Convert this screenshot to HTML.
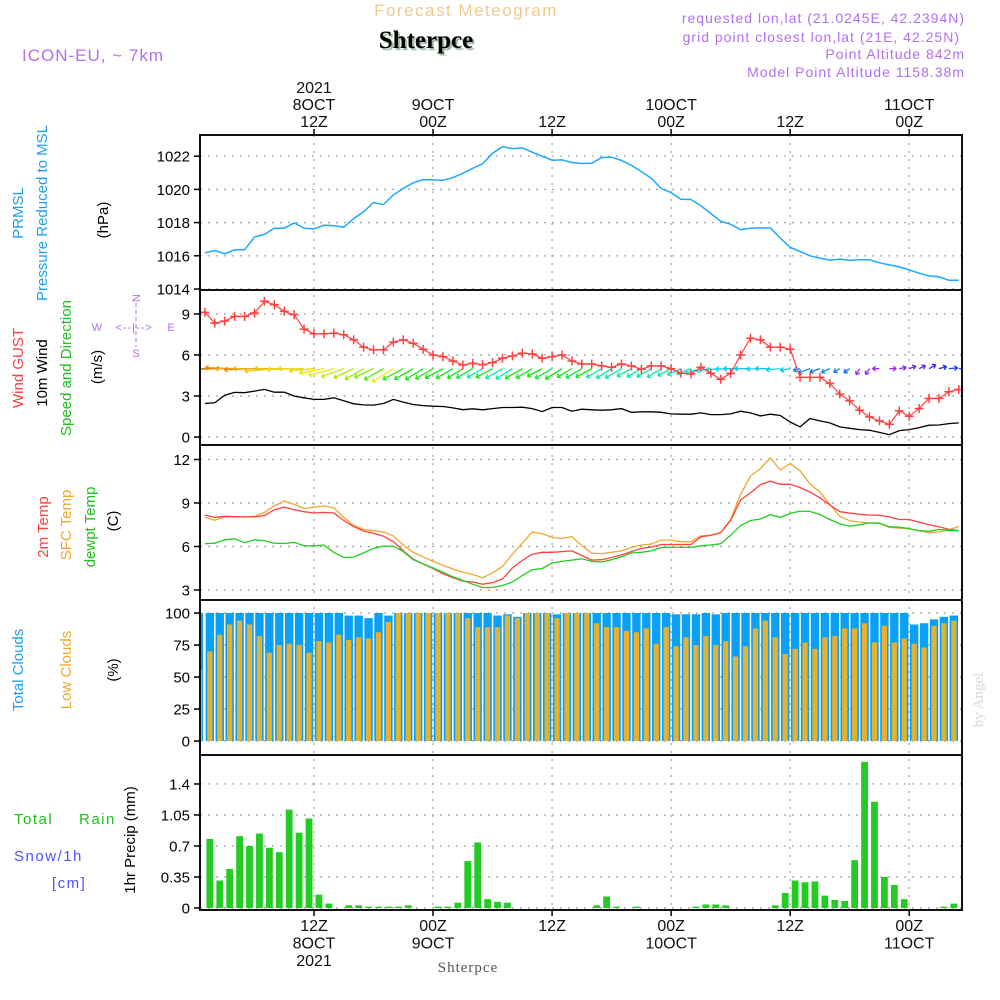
<!DOCTYPE html>
<html><head><meta charset="utf-8"><style>
html,body{margin:0;padding:0;background:#fff;}
svg{display:block;font-family:"Liberation Sans",sans-serif;}
</style></head><body>
<svg id="chart" width="1000" height="1000" viewBox="0 0 1000 1000" xmlns="http://www.w3.org/2000/svg">
<g>
<text x="466" y="16" text-anchor="middle" font-size="17" fill="#f2c98e" letter-spacing="1.5">Forecast Meteogram</text>
<text x="426" y="48" text-anchor="middle" font-size="25" font-weight="bold" font-family="Liberation Serif, serif" fill="#000" style="text-shadow:2px 2px 1px #9ab09a">Shterpce</text>
<text x="22" y="61" font-size="17" fill="#b46ef0" letter-spacing="1">ICON-EU, ~ 7km</text>
<g font-size="14" fill="#b46ef0" text-anchor="end" letter-spacing="1">
<text x="965" y="23">requested lon,lat (21.0245E, 42.2394N)</text>
<text x="960" y="42">grid point closest lon,lat (21E, 42.25N)</text>
<text x="965" y="59">Point Altitude 842m</text>
<text x="965" y="77">Model Point Altitude 1158.38m</text>
</g>
</g>
<g id="axes-labels" font-size="15">
<text transform="translate(23,213) rotate(-90)" text-anchor="middle" fill="#1ea0f0">PRMSL</text>
<text transform="translate(47,213) rotate(-90)" text-anchor="middle" fill="#1ea0f0">Pressure Reduced to MSL</text>
<text transform="translate(108,220) rotate(-90)" text-anchor="middle" fill="#000">(hPa)</text>
<text transform="translate(23,368) rotate(-90)" text-anchor="middle" fill="#ff4040">Wind GUST</text>
<text transform="translate(47,373) rotate(-90)" text-anchor="middle" fill="#000">10m Wind</text>
<text transform="translate(71,368) rotate(-90)" text-anchor="middle" fill="#20c020">Speed and Direction</text>
<text transform="translate(102,367) rotate(-90)" text-anchor="middle" fill="#000">(m/s)</text>
<g fill="#b46ef0" font-size="11">
<text x="97" y="331" text-anchor="middle">W</text>
<text x="171" y="331" text-anchor="middle">E</text>
<text x="136" y="302" text-anchor="middle" transform="rotate(-90 136 298)">N</text>
<text x="136" y="357" text-anchor="middle">S</text>
<text x="134" y="331" text-anchor="middle" letter-spacing="1">&lt;--|--&gt;</text>
<line x1="136" y1="303" x2="136" y2="347" stroke="#b46ef0" stroke-dasharray="4,3"/>
</g>
<text transform="translate(48,527) rotate(-90)" text-anchor="middle" fill="#ff4040">2m Temp</text>
<text transform="translate(71,525) rotate(-90)" text-anchor="middle" fill="#f0a830">SFC Temp</text>
<text transform="translate(95,527) rotate(-90)" text-anchor="middle" fill="#20c020">dewpt Temp</text>
<text transform="translate(118,521) rotate(-90)" text-anchor="middle" fill="#000">(C)</text>
<text transform="translate(23,670) rotate(-90)" text-anchor="middle" fill="#1ea0f0">Total Clouds</text>
<text transform="translate(71,670) rotate(-90)" text-anchor="middle" fill="#f0a830">Low Clouds</text>
<text transform="translate(118,670) rotate(-90)" text-anchor="middle" fill="#000">(%)</text>
<text x="14" y="824" fill="#20c020" letter-spacing="1.5">Total</text>
<text x="79" y="824" fill="#20c020" letter-spacing="1.5">Rain</text>
<text x="14" y="861" fill="#5050ff" letter-spacing="1.5">Snow/1h</text>
<text x="52" y="888" fill="#5050ff" letter-spacing="1.5">[cm]</text>
<text transform="translate(135,840) rotate(-90)" text-anchor="middle" fill="#000">1hr Precip (mm)</text>
<text transform="translate(983,700) rotate(-90)" text-anchor="middle" fill="#d8d8d8" font-family="Liberation Serif, serif" font-size="15">by Angel</text>
<text x="468" y="972" text-anchor="middle" fill="#555" font-family="Liberation Serif, serif" font-size="15" letter-spacing="1">Shterpce</text>
</g>
<g id="plots"></g>
</svg>
<script>
const pressure=[1016.18,1016.32,1016.12,1016.36,1016.36,1017.13,1017.29,1017.66,1017.66,1017.98,1017.66,1017.62,1017.84,1017.82,1017.72,1018.24,1018.65,1019.21,1019.09,1019.66,1020.06,1020.4,1020.59,1020.57,1020.55,1020.71,1020.97,1021.27,1021.54,1022.18,1022.57,1022.46,1022.5,1022.24,1022.0,1021.76,1021.78,1021.62,1021.56,1021.58,1021.92,1021.94,1021.74,1021.45,1021.07,1020.67,1020.06,1019.8,1019.41,1019.39,1019.01,1018.55,1018.08,1017.9,1017.58,1017.66,1017.68,1017.68,1017.07,1016.51,1016.26,1016.0,1015.86,1015.74,1015.8,1015.72,1015.76,1015.76,1015.58,1015.45,1015.33,1015.15,1014.95,1014.79,1014.73,1014.53,1014.53];
const gust=[9.12,8.33,8.48,8.82,8.82,9.07,9.93,9.68,9.19,8.95,7.89,7.55,7.55,7.6,7.48,7.11,6.57,6.37,6.37,6.94,7.11,6.86,6.42,6.0,5.88,5.56,5.27,5.39,5.29,5.44,5.76,5.93,6.13,6.08,5.76,5.88,6.0,5.56,5.34,5.34,5.2,5.1,5.34,5.2,4.95,5.2,5.2,5.0,4.66,4.61,5.1,4.66,4.22,4.66,6.0,7.23,7.11,6.57,6.57,6.42,4.36,4.36,4.36,3.92,3.14,2.65,1.96,1.47,1.18,0.93,1.91,1.52,2.08,2.82,2.82,3.31,3.48];
const windSpeed=[2.45,2.5,3.06,3.26,3.24,3.36,3.48,3.28,3.28,2.99,2.87,2.75,2.75,2.87,2.65,2.43,2.35,2.33,2.45,2.75,2.55,2.38,2.3,2.25,2.23,2.13,2.0,2.06,1.99,2.08,2.16,2.16,2.18,2.08,1.86,2.16,2.16,1.89,2.03,1.99,1.96,1.99,2.08,1.81,1.84,1.84,1.81,1.69,1.67,1.67,1.76,1.64,1.64,1.69,1.89,1.76,1.54,1.67,1.57,1.1,0.74,1.35,1.18,1.03,0.74,0.64,0.54,0.49,0.34,0.17,0.47,0.54,0.69,0.86,0.88,0.98,1.03];
const windDir=[180,182,180,178,180,182,180,185,180,182,180,185,190,195,200,205,210,205,210,212,208,210,212,210,208,210,212,210,210,208,210,212,210,210,208,210,212,210,210,208,210,212,210,208,210,210,212,208,205,200,195,190,185,182,180,180,182,180,185,190,195,200,200,205,210,215,240,235,180,0,10,20,25,30,15,5,0];
const windHue=[30,25,30,35,40,35,45,50,50,55,55,55,60,60,70,75,80,85,100,60,110,120,120,115,120,125,120,130,165,120,160,165,120,125,120,130,120,125,130,120,160,160,165,160,165,160,170,160,165,170,175,180,185,185,190,190,185,190,185,190,205,205,210,205,210,215,275,275,275,275,265,260,255,250,230,225,220];
const temp2m=[8.17,8.01,8.08,8.06,8.04,8.04,8.13,8.53,8.71,8.53,8.40,8.31,8.35,8.31,7.79,7.38,7.07,6.91,6.71,6.33,5.70,5.13,4.80,4.48,4.12,3.85,3.62,3.55,3.40,3.51,3.76,4.52,5.04,5.47,5.60,5.60,5.65,5.70,5.38,5.06,5.09,5.24,5.42,5.65,5.87,5.96,6.14,6.14,6.14,6.14,6.66,6.77,6.95,7.79,9.21,9.70,10.27,10.51,10.29,10.29,10.06,9.75,9.36,8.87,8.40,8.31,8.22,8.17,8.15,8.04,7.86,7.86,7.68,7.50,7.36,7.18,7.09];
const sfcTemp=[8.01,7.81,8.04,8.04,8.04,8.08,8.35,8.80,9.14,8.91,8.62,8.71,8.80,8.67,8.01,7.45,7.18,7.09,7.0,6.73,6.10,5.60,5.29,4.97,4.70,4.45,4.23,4.07,3.85,4.18,4.63,5.47,6.23,7.0,6.89,6.62,6.55,6.68,6.05,5.54,5.51,5.60,5.70,5.94,6.10,6.17,6.44,6.44,6.33,6.33,6.73,6.77,6.95,7.86,9.59,10.87,11.37,12.11,11.28,11.73,11.21,10.31,9.75,8.91,8.08,7.77,7.68,7.63,7.59,7.32,7.27,7.23,7.09,6.95,7.0,7.16,7.38];
const dewpt=[6.19,6.23,6.46,6.53,6.26,6.46,6.41,6.23,6.21,6.28,6.05,6.05,6.10,5.60,5.24,5.27,5.56,5.87,6.03,6.03,5.65,5.09,4.80,4.52,4.23,3.91,3.67,3.40,3.17,3.17,3.31,3.55,4.0,4.39,4.48,4.86,4.97,5.06,5.15,4.97,4.93,5.09,5.29,5.56,5.60,5.70,5.94,5.96,5.94,5.94,6.05,6.10,6.19,6.77,7.45,7.79,7.90,8.20,8.01,8.28,8.44,8.42,8.20,7.86,7.56,7.41,7.50,7.63,7.61,7.36,7.34,7.23,7.09,7.05,7.18,7.11,7.09];
const totalClouds=[100,100,100,100,100,100,100,100,100,100,100,100,100,100,98,98,96,100,98,100,100,100,100,100,100,100,100,100,100,98,99,97,100,100,100,99,100,100,100,100,100,100,100,100,100,100,100,99,99,99,100,99,100,100,100,100,100,100,100,100,100,100,100,100,100,100,100,100,100,100,100,91,92,95,97,98];
const lowClouds=[70,83,91,94,91,82,69,75,76,75,69,78,77,83,79,81,80,85,93,100,100,100,100,100,100,100,96,89,89,89,98,96,100,100,100,96,100,100,100,92,89,89,86,85,88,76,89,74,81,75,82,75,78,66,74,88,94,81,68,72,77,72,81,82,88,88,92,77,90,77,80,76,73,90,92,94];
const precip=[0.78,0.31,0.44,0.81,0.70,0.84,0.68,0.63,1.11,0.85,1.01,0.15,0.05,0,0.03,0.03,0.015,0.015,0.015,0.015,0.03,0,0,0.015,0.015,0.06,0.53,0.74,0.10,0.07,0.06,0,0,0,0,0,0,0,0,0.03,0.13,0.015,0,0.015,0,0,0,0,0,0.015,0.04,0.04,0.03,0,0,0,0,0.03,0.17,0.31,0.29,0.30,0.14,0.09,0.08,0.54,1.65,1.20,0.35,0.26,0.10,0,0,0,0.015,0.05];
const pTicks=[1014,1016,1018,1020,1022];
const wTicks=[0,3,6,9];
const tTicks=[3,6,9,12];
const cTicks=[0,25,50,75,100];
const rTicks=[0,0.35,0.7,1.05,1.4];
const rTickLabels=["0","0.35","0.7","1.05","1.4"];
const timeHours=[12,24,36,48,60,72];
const topLabels=[["2021","8OCT","12Z"],["","9OCT","00Z"],["","","12Z"],["","10OCT","00Z"],["","","12Z"],["","11OCT","00Z"]];
const botLabels=[["12Z","8OCT","2021"],["00Z","9OCT",""],["12Z","",""],["00Z","10OCT",""],["12Z","",""],["00Z","11OCT",""]];

const NS="http://www.w3.org/2000/svg";
const root=document.getElementById('plots');
const L=200,R=962;
const xT=t=>314+(t-12)*9.92;
const panels=[{top:135,bot:290},{top:290,bot:445},{top:445,bot:600},{top:600,bot:755},{top:755,bot:910}];
const yP=v=>289-(v-1014)*16.6;
const yW=v=>437-v*13.67;
const yTm=v=>590-(v-3)*14.5;
const yC=v=>741-v*1.28;
const yR=v=>908-v*88.6;
function mk(tag,attrs,parent){const e=document.createElementNS(NS,tag);for(const k in attrs)e.setAttribute(k,attrs[k]);(parent||root).appendChild(e);return e;}

const defs=mk('defs',{});
const cp=mk('clipPath',{id:'plotclip'},defs);
mk('rect',{x:L,y:135,width:R-L,height:775},cp);

const grid=mk('g',{stroke:'#a0a0a0','stroke-width':1.2,'stroke-dasharray':'2,6'});


function hgrid(ticks,f){ticks.forEach(v=>{const y=f(v);mk('line',{x1:L,x2:R,y1:y,y2:y},grid);});}
hgrid(pTicks,yP);hgrid(wTicks,yW);hgrid(tTicks,yTm);hgrid(cTicks,yC);hgrid(rTicks,yR);
timeHours.forEach(h=>{mk('line',{x1:xT(h),x2:xT(h),y1:135,y2:910},grid);});

function poly(arr,f,color,w,name){
  const pts=arr.map((v,i)=>xT(i+1).toFixed(1)+','+f(v).toFixed(1)).join(' ');
  const e=mk('polyline',{points:pts,fill:'none',stroke:color,'stroke-width':w,'clip-path':'url(#plotclip)'});
  
  
  return e;
}
poly(pressure,yP,'#1ea8ff',1.5,'pressure-line');

const cg=mk('g',{'clip-path':'url(#plotclip)'});


totalClouds.forEach((v,i)=>{const x=xT(i+1.5);const b=mk('rect',{x:x-4.2,y:yC(v),width:8.4,height:yC(0)-yC(v),fill:'#0aa0f5'},cg);

});
lowClouds.forEach((v,i)=>{const x=xT(i+1.5);const b=mk('rect',{x:x-2.6,y:yC(v),width:5.2,height:yC(0)-yC(v),fill:'#e6b030'},cg);

});
mk('rect',{x:L,y:yC(100),width:3,height:yC(0)-yC(100),fill:'#0aa0f5'},cg);
mk('rect',{x:L,y:yC(56),width:2,height:yC(0)-yC(56),fill:'#e6b030'},cg);

const rg=mk('g',{});


precip.forEach((v,i)=>{if(v<=0)return;const x=xT(i+1.5);const b=mk('rect',{x:x-3.4,y:yR(v),width:6.8,height:yR(0)-yR(v),fill:'#22cc22'},rg);

});

poly(sfcTemp,yTm,'#f0a830',1.3,'sfc-temp-line');
poly(temp2m,yTm,'#ff4040',1.3,'temp-2m-line');
poly(dewpt,yTm,'#22cc22',1.3,'dewpt-line');

poly(windSpeed,yW,'#000',1.3,'wind-speed-line');
const ag=mk('g',{'clip-path':'url(#plotclip)','stroke-width':1.3,fill:'none'});


windDir.forEach((d,i)=>{
  const x0=xT(i+1),y0=yW(5.0);
  const len=Math.max(7,9*windSpeed[i]);
  const a=d*Math.PI/180;
  const ca=Math.cos(a),sa=-Math.sin(a);
  const x1=x0+len*ca,y1=y0+len*sa;
  const col='hsl('+windHue[i]+',90%,'+(windHue[i]>240?'55%':'48%')+')';
  const g=mk('g',{stroke:col},ag);
  
  
  mk('line',{x1:x0,y1:y0,x2:x1,y2:y1},g);
  const h=4;const b0=Math.atan2(sa,ca);
  [b0+Math.PI*0.8,b0-Math.PI*0.8].forEach(b=>mk('line',{x1:x1,y1:y1,x2:x1+h*Math.cos(b),y2:y1+h*Math.sin(b)},g));
});
poly(gust,yW,'#ff4040',1.2,'gust-line');
const gg=mk('g',{stroke:'#ff4040','stroke-width':1.5});


gust.forEach((v,i)=>{const x=xT(i+1),y=yW(v);mk('line',{x1:x-4.5,x2:x+4.5,y1:y,y2:y},gg);mk('line',{x1:x,x2:x,y1:y-4.5,y2:y+4.5},gg);});

const fg=mk('g',{fill:'none',stroke:'#111','stroke-width':2});


panels.forEach(p=>mk('rect',{x:L,y:p.top,width:R-L,height:p.bot-p.top},fg));
const tg=mk('g',{'font-size':15,fill:'#000','text-anchor':'end'});


function yticks(ticks,f,labels){ticks.forEach((v,i)=>{const y=f(v);mk('line',{x1:L-6,x2:L,y1:y,y2:y,stroke:'#000','stroke-width':1.5},tg);const t=mk('text',{x:L-10,y:y+5.5},tg);t.textContent=labels?labels[i]:String(v);});}
yticks(pTicks,yP);yticks(wTicks,yW);yticks(tTicks,yTm);yticks(cTicks,yC);yticks(rTicks,yR,rTickLabels);
timeHours.forEach(h=>{const x=xT(h);mk('line',{x1:x,x2:x,y1:129,y2:135,stroke:'#000','stroke-width':1.5},tg);mk('line',{x1:x,x2:x,y1:910,y2:916,stroke:'#000','stroke-width':1.5},tg);});
const xg=mk('g',{'font-size':16,fill:'#111','text-anchor':'middle'});


timeHours.forEach((h,i)=>{const x=xT(h);
  topLabels[i].forEach((s,j)=>{if(!s)return;const t=mk('text',{x:x,y:93+j*17},xg);t.textContent=s;});
  botLabels[i].forEach((s,j)=>{if(!s)return;const t=mk('text',{x:x,y:931+j*17.5},xg);t.textContent=s;});
});
</script>
</body></html>
